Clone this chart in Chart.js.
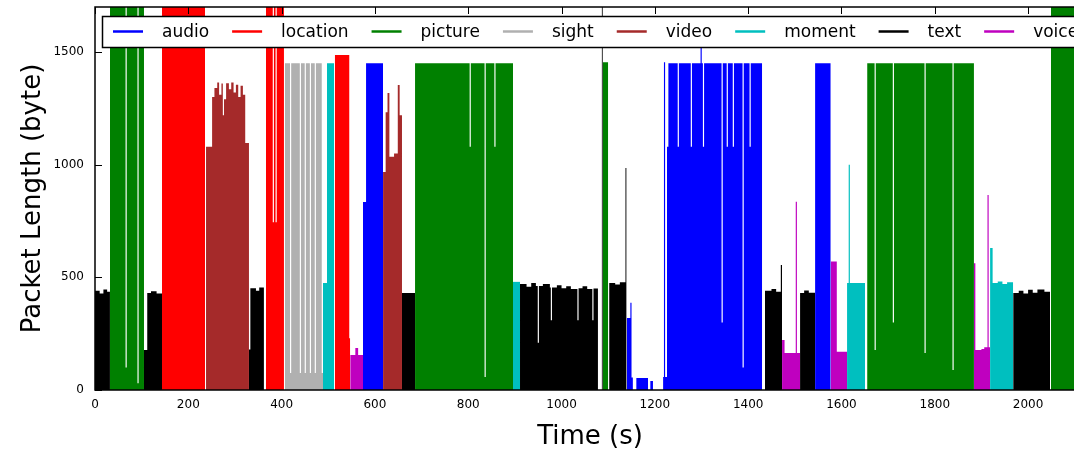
<!DOCTYPE html>
<html>
<head>
<meta charset="utf-8">
<script src="https://cdn.jsdelivr.net/npm/chart.js@4/dist/chart.umd.min.js"></script>
<style>
  html, body { margin: 0; padding: 0; background: #fff; overflow: hidden; }
  #wrap { width: 1074px; height: 452px; overflow: hidden; }
</style>
</head>
<body>
<div id="wrap"><canvas id="myChart" width="1085" height="452"></canvas></div>
<script>
// tick values
const xTicks = [0, 200, 400, 600, 800, 1000, 1200, 1400, 1600, 1800, 2000];
const yTicks = [0, 500, 1000, 1500];

const apps = ['audio', 'location', 'picture', 'sight', 'video', 'moment', 'text', 'voice'];

// each app: list of bursts, each burst = [time (s), packet length (byte)] steps,
// a length holds until the next time, last entry closes the burst
const audio = [
    [[574.5, 835], [581, 1450], [617.5, 1450]],
    [[1140, 320], [1147.5, 387], [1150, 56], [1153, 56]],
    [[1160, 53], [1185.5, 53]],
    [[1190, 40], [1196, 40]],
    [[1217.6, 58], [1219.5, 1455], [1222, 58], [1226, 1080], [1229, 1450], [1249, 1080], [1251.5, 1450],
     [1277, 1080], [1279.5, 1450], [1298, 1560], [1300.5, 1450], [1303, 1080], [1305.5, 1450],
     [1343, 300], [1345.5, 1450], [1354, 1080], [1356.5, 1450], [1367, 1080], [1369.5, 1450],
     [1388, 100], [1390.5, 1450], [1403, 1080], [1405.5, 1450], [1430, 1450]],
    [[1543.4, 1450], [1577, 1450]]
];
const location_ = [
    [[143.6, 1700], [236, 1700]],
    [[366.5, 1700], [381, 745], [383.5, 1700], [387, 745], [389.5, 1700], [405, 1700]],
    [[514, 1487], [545, 230], [547, 230]]
];
const picture = [
    [[32, 1700], [65.5, 100], [68, 1700], [91, 30], [93.5, 1700], [105, 1700]],
    [[686, 1450], [803, 1080], [805.5, 1450], [835, 58], [837.5, 1450], [856, 1080], [858.5, 1450], [896, 1450]],
    [[1088.5, 1455], [1100, 1455]],
    [[1655, 1450], [1671, 178], [1673.5, 1450], [1710, 300], [1712.5, 1450], [1778, 164], [1780.5, 1450],
     [1838, 89], [1840.5, 1450], [1884, 1450]],
    [[2049, 1700], [2130, 1700]]
];
const sight = [
    [[407, 1450], [418, 75], [420.5, 1450], [439, 75], [441.5, 1450], [449.5, 75], [452, 1450],
     [460.5, 75], [463, 1450], [471, 75], [473.5, 1450], [486, 75], [488.7, 75]]
];
const video = [
    [[238, 1080], [251, 1300], [256, 1340], [262, 1365], [266, 1310], [271, 1360], [274, 1220], [276.5, 1290],
     [281, 1362], [287, 1335], [292, 1365], [297, 1320], [302, 1355], [307, 1300], [312, 1350], [317, 1310],
     [322, 1096], [330, 1096]],
    [[617.5, 968], [623, 1233], [627, 1318], [631, 1035], [641, 1050], [649, 1354], [653, 1220], [658, 1220]]
];
const moment = [
    [[488.7, 475], [497.3, 1450], [512.3, 1450]],
    [[896, 480], [911, 480]],
    [[1612, 475], [1615.5, 1000], [1618, 475], [1650.5, 475]],
    [[1918.5, 630], [1924, 475], [1935, 482], [1945, 470], [1955, 478], [1968, 478]]
];
const text = [
    [[0, 440], [10, 428], [18, 446], [26, 436], [32, 436]],
    [[105, 178], [112, 430], [120, 438], [132, 428], [143.6, 428]],
    [[330, 180], [333, 452], [345, 440], [352, 455], [362, 455]],
    [[658, 430], [686, 430]],
    [[911, 470], [925, 458], [935, 475], [945, 462], [949, 210], [951.5, 462], [960, 470], [975, 455],
     [977, 310], [979.5, 455], [990, 465], [1000, 452], [1010, 460], [1020, 448], [1034, 310],
     [1036.5, 452], [1045, 460], [1055, 448], [1066, 310], [1068.5, 450], [1078, 450]],
    [[1086, 1700], [1088.5, 1700]],
    [[1102, 475], [1115, 468], [1125, 478], [1137, 985], [1139.5, 985]],
    [[1436, 440], [1450, 448], [1460, 436], [1470, 555], [1472.7, 555]],
    [[1511.3, 430], [1520, 442], [1530, 432], [1543.4, 432]],
    [[1968, 430], [1980, 440], [1990, 428], [2000, 445], [2010, 432], [2020, 446], [2035, 436], [2047, 436]]
];
const voice = [
    [[547, 155], [558, 186], [564, 155], [575, 155]],
    [[1472.7, 222], [1478, 164], [1502, 836], [1504.5, 164], [1511.3, 164]],
    [[1577, 570], [1590, 170], [1612, 170]],
    [[1884, 563], [1887, 178], [1900, 182], [1906, 190], [1913, 866], [1915.5, 190], [1918.5, 190]]
];

const series = [audio, location_, picture, sight, video, moment, text, voice];
const colors = ['#0000ff', '#ff0000', '#008000', '#b0b0b0', '#a52a2a', '#00bfbf', '#000000', '#bf00bf'];

// bursts -> points, null between bursts so each one is filled on its own
function toPoints(bursts) {
    const pts = [];
    bursts.forEach(b => {
        b.forEach(p => pts.push({x: p[0], y: p[1]}));
        pts.push({x: b[b.length - 1][0], y: null});
    });
    return pts;
}

function line(ctx, x1, y1, x2, y2) {
    ctx.beginPath();
    ctx.moveTo(x1, y1);
    ctx.lineTo(x2, y2);
    ctx.stroke();
}

// frame, inward ticks and the boxed legend drawn over the data
const framePlugin = {
    id: 'frameLegend',
    afterDraw(chart) {
        const {ctx, chartArea: a, scales} = chart;
        ctx.save();
        ctx.strokeStyle = '#000';
        ctx.lineWidth = 1.5;
        ctx.strokeRect(a.left, a.top, a.right - a.left, a.bottom - a.top);
        ctx.lineWidth = 1;
        xTicks.forEach(v => {
            const x = Math.round(scales.x.getPixelForValue(v)) + 0.5;
            line(ctx, x, a.top, x, a.top + 7);
        });
        yTicks.forEach(v => {
            const y = Math.round(scales.y.getPixelForValue(v)) + 0.5;
            line(ctx, a.left, y, a.left + 7, y);
        });

        // legend box
        const top = 16, h = 31, left = a.left + 7.5;
        ctx.fillStyle = '#fff';
        ctx.fillRect(left, top, 1100, h);
        ctx.lineWidth = 1.5;
        ctx.strokeStyle = '#000';
        ctx.strokeRect(left, top + 0.5, 1100, h);
        ctx.font = '17px "DejaVu Sans"';
        ctx.textBaseline = 'middle';
        const cy = top + h / 2;
        let x = a.left + 18;
        apps.forEach((name, i) => {
            ctx.strokeStyle = colors[i];
            ctx.lineWidth = 2.5;
            line(ctx, x, cy, x + 30, cy);
            ctx.fillStyle = '#000';
            ctx.fillText(name, x + 49, cy + 1);
            x += 49 + ctx.measureText(name).width + 23;
        });
        ctx.restore();
    }
};

const chart = new Chart(document.getElementById('myChart').getContext('2d'), {
    type: 'line',
    data: {
        datasets: apps.map((name, i) => ({
            label: name,
            data: toPoints(series[i]),
            stepped: true,
            fill: 'origin',
            backgroundColor: colors[i],
            borderColor: 'rgba(0,0,0,0)',
            borderWidth: 0,
            pointRadius: 0,
            spanGaps: false
        }))
    },
    options: {
        responsive: false,
        animation: false,
        events: [],
        layout: { padding: { top: 7, right: 0, left: 0, bottom: 0 } },
        plugins: {
            legend: { display: false },
            tooltip: { enabled: false }
        },
        scales: {
            x: {
                type: 'linear',
                min: 0,
                max: 2122,
                afterFit: s => { s.height = 62; s.paddingLeft = 0; s.paddingRight = 0; },
                afterBuildTicks: s => { s.ticks = xTicks.map(v => ({value: v})); },
                grid: { display: false, drawTicks: false },
                border: { display: false },
                ticks: {
                    padding: 8,
                    color: '#000',
                    font: { family: 'DejaVu Sans', size: 12 },
                    maxRotation: 0,
                    callback: v => String(v)
                },
                title: {
                    display: true,
                    text: 'Time (s)',
                    color: '#000',
                    font: { family: 'DejaVu Sans', size: 26, lineHeight: 1.1 },
                    padding: { top: 0, bottom: 0 }
                }
            },
            y: {
                min: 0,
                max: 1700,
                afterFit: s => { s.width = 95; s.paddingTop = 0; s.paddingBottom = 0; },
                afterBuildTicks: s => { s.ticks = yTicks.map(v => ({value: v})); },
                grid: { display: false, drawTicks: false },
                border: { display: false },
                ticks: {
                    padding: 11,
                    color: '#000',
                    font: { family: 'DejaVu Sans', size: 12 },
                    callback: v => String(v)
                },
                title: {
                    display: true,
                    text: 'Packet Length (byte)',
                    color: '#000',
                    font: { family: 'DejaVu Sans', size: 26 },
                    padding: { top: 18, bottom: 0 }
                }
            }
        }
    },
    plugins: [framePlugin]
});
</script>
</body>
</html>
